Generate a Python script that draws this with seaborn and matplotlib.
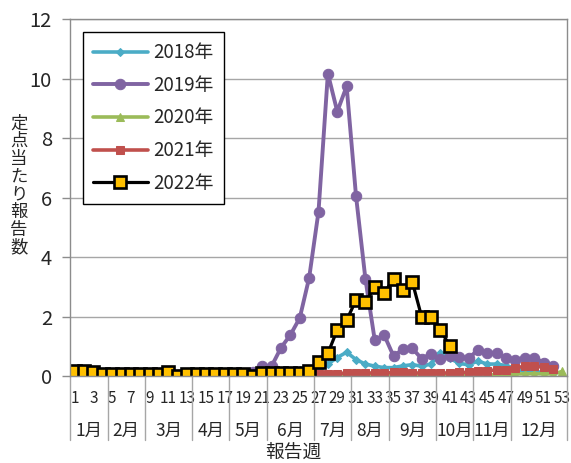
import numpy as np
import pandas as pd
import seaborn as sns
import matplotlib
matplotlib.use("Agg")
import matplotlib.pyplot as plt
import matplotlib.transforms as mtransforms

# weekly values (定点当たり報告数)
weeks = list(range(1, 54))
y2018 = [0.05, 0.05, 0.04, 0.03, 0.03, 0.03, 0.02, 0.02, 0.03, 0.03,
         0.03, 0.02, 0.02, 0.03, 0.03, 0.04, 0.05, 0.05, 0.06, 0.08,
         0.10, 0.10, 0.12, 0.15, 0.20, 0.20, 0.25, 0.40, 0.62, 0.80,
         0.55, 0.40, 0.33, 0.28, 0.28, 0.34, 0.38, 0.33, 0.40, 0.78,
         0.60, 0.42, 0.38, 0.50, 0.40, 0.40, 0.35, 0.25, 0.15, 0.15,
         0.12, 0.10]
y2019 = [0.05, 0.05, 0.04, 0.03, 0.03, 0.03, 0.02, 0.02, 0.02, 0.02,
         0.02, 0.02, 0.02, 0.03, 0.03, 0.03, 0.04, 0.05, 0.08, 0.12,
         0.35, 0.33, 0.95, 1.38, 1.95, 3.30, 5.53, 10.18, 8.90, 9.75,
         6.06, 3.27, 1.20, 1.38, 0.67, 0.90, 0.93, 0.58, 0.75, 0.58,
         0.67, 0.65, 0.60, 0.87, 0.78, 0.78, 0.60, 0.53, 0.62, 0.62,
         0.45, 0.35]
y2020 = [0.02, 0.02, 0.02, 0.01, 0.01, 0.01, 0.01, 0.01, 0.01, 0.0,
         0.0, 0.0, 0.0, 0.0, 0.0, 0.0, 0.0, 0.0, 0.0, 0.0,
         0.0, 0.0, 0.0, 0.0, 0.0, 0.0, 0.0, 0.0, 0.0, 0.0,
         0.0, 0.01, 0.02, 0.01, 0.0, 0.0, 0.0, 0.0, 0.0, 0.0,
         0.01, 0.01, 0.02, 0.03, 0.03, 0.04, 0.04, 0.07, 0.07, 0.08,
         0.07, 0.07, 0.15]
y2021 = [0.0, 0.0, 0.0, 0.0, 0.0, 0.0, 0.0, 0.0, 0.0, 0.0,
         0.0, 0.0, 0.0, 0.0, 0.0, 0.0, 0.0, 0.0, 0.0, 0.0,
         0.01, 0.01, 0.02, 0.02, 0.03, 0.05, 0.08, 0.08, 0.08, 0.10,
         0.10, 0.10, 0.10, 0.10, 0.12, 0.12, 0.10, 0.10, 0.10, 0.10,
         0.10, 0.12, 0.12, 0.15, 0.18, 0.20, 0.20, 0.28, 0.32, 0.32,
         0.30, 0.22]
y2022 = [0.18, 0.18, 0.12, 0.05, 0.05, 0.05, 0.05, 0.05, 0.05, 0.05,
         0.14, 0.0, 0.05, 0.05, 0.05, 0.05, 0.05, 0.05, 0.05, 0.0,
         0.11, 0.11, 0.11, 0.11, 0.11, 0.18, 0.48, 0.76, 1.55, 1.88,
         2.55, 2.48, 3.00, 2.78, 3.28, 2.91, 3.17, 1.99, 1.99, 1.55,
         1.01]

months = ["1月", "2月", "3月", "4月", "5月", "6月", "7月", "8月", "9月",
          "10月", "11月", "12月"]
weeks_per_month = [4, 4, 5, 4, 4, 5, 4, 4, 5, 4, 4, 6]
yticks = [0, 2, 4, 6, 8, 10, 12]

sns.set_style("white")
plt.rcParams["font.family"] = ["Noto Sans CJK JP", "DejaVu Sans"]

fig, ax = plt.subplots(figsize=(5.71, 4.63), dpi=100)
fig.subplots_adjust(left=0.1226, right=0.993, top=0.958, bottom=0.188)

ax.yaxis.grid(True, color="#a6a6a6", linewidth=1.0)
ax.set_axisbelow(True)

series = [
    ("2018年", y2018, dict(color="#4bacc6", marker="D", markersize=4, linewidth=2.6)),
    ("2019年", y2019, dict(color="#8064a2", marker="o", markersize=7.5, linewidth=2.8)),
    ("2020年", y2020, dict(color="#9bbb59", marker="^", markersize=6, linewidth=2.6)),
    ("2021年", y2021, dict(color="#c0504d", marker="s", markersize=5.5, linewidth=2.6)),
    ("2022年", y2022, dict(color="black", marker="s", markersize=8.5, linewidth=2.3,
                          markerfacecolor="#ffc000", markeredgecolor="black",
                          markeredgewidth=1.9)),
]
for label, vals, kw in series:
    df = pd.DataFrame({"week": weeks[:len(vals)], "value": vals})
    sns.lineplot(data=df, x="week", y="value", ax=ax, label=label,
                 markeredgecolor=kw.pop("markeredgecolor", kw["color"]), **kw)

ax.set_xlim(0.5, 53.5)
ax.set_ylim(0, 12)
ax.set_yticks(yticks)
ax.set_xticks(weeks[::2])
ax.set_xticklabels([str(w) for w in weeks[::2]], fontsize=11)
ax.tick_params(axis="x", length=0, pad=10)
ax.tick_params(axis="y", length=6, width=1, color="#8c8c8c", direction="out",
               labelsize=14.5, pad=7, left=True)
ax.set_xlabel("")
ax.set_ylabel("")
for side in ["left", "bottom", "right", "top"]:
    ax.spines[side].set_color("#8c8c8c")
    ax.spines[side].set_linewidth(1.0)

# month groups below the week numbers
trans = mtransforms.blended_transform_factory(ax.transData, ax.transAxes)
edges = np.concatenate([[0], np.cumsum(weeks_per_month)]) + 0.5
for e in edges:
    ax.plot([e, e], [0, -0.18], transform=trans, color="#a6a6a6",
            linewidth=1.0, clip_on=False)
for m, a, b in zip(months, edges[:-1], edges[1:]):
    ax.text((a + b) / 2, -0.155, m, transform=trans, ha="center",
            va="center", fontsize=12.5)

fig.text(0.513, 0.024, "報告週", ha="center", va="center", fontsize=13.5)
fig.text(0.033, 0.60, "\n".join("定点当たり報告数"), ha="center",
         va="center", fontsize=12.5, linespacing=0.98)

leg = ax.legend(loc="upper left", bbox_to_anchor=(0.026, 0.965), fontsize=13.5,
                frameon=True, fancybox=False, edgecolor="black", framealpha=1,
                handlelength=2.9, handletextpad=0.3, labelspacing=0.62,
                borderpad=0.55, borderaxespad=0)
leg.get_frame().set_linewidth(1.0)

fig.savefig("out.png", dpi=100)
